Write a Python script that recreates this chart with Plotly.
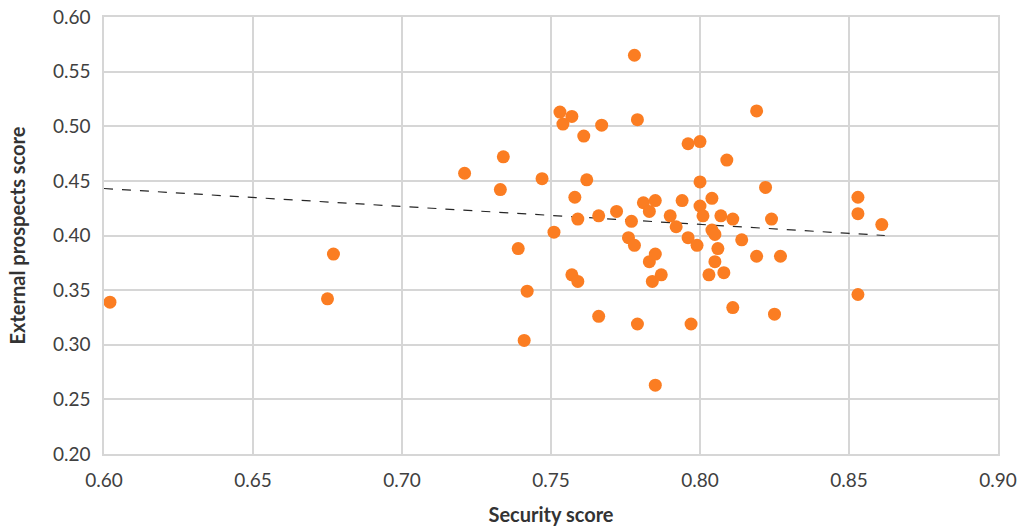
import plotly.graph_objects as go

security = [0.602, 0.675, 0.677, 0.721, 0.734, 0.733, 0.739, 0.742, 0.741, 0.747,
            0.751, 0.753, 0.754, 0.757, 0.758, 0.759, 0.757, 0.759, 0.761, 0.762,
            0.767, 0.766, 0.766, 0.778, 0.779, 0.772, 0.777, 0.776, 0.778, 0.781,
            0.783, 0.785, 0.783, 0.785, 0.784, 0.787, 0.779, 0.785, 0.790, 0.792,
            0.794, 0.796, 0.796, 0.799, 0.797, 0.800, 0.800, 0.800, 0.801, 0.804,
            0.804, 0.805, 0.805, 0.803, 0.806, 0.807, 0.809, 0.808, 0.811, 0.811,
            0.814, 0.819, 0.819, 0.822, 0.824, 0.825, 0.827, 0.853, 0.853, 0.853,
            0.861]
external = [0.339, 0.342, 0.383, 0.457, 0.472, 0.442, 0.388, 0.349, 0.304, 0.452,
            0.403, 0.513, 0.502, 0.509, 0.435, 0.415, 0.364, 0.358, 0.491, 0.451,
            0.501, 0.418, 0.326, 0.565, 0.506, 0.422, 0.413, 0.398, 0.391, 0.430,
            0.422, 0.432, 0.376, 0.383, 0.358, 0.364, 0.319, 0.263, 0.418, 0.408,
            0.432, 0.484, 0.398, 0.391, 0.319, 0.486, 0.449, 0.427, 0.418, 0.434,
            0.405, 0.401, 0.376, 0.364, 0.388, 0.418, 0.469, 0.366, 0.334, 0.415,
            0.396, 0.514, 0.381, 0.444, 0.415, 0.328, 0.381, 0.435, 0.420, 0.346,
            0.410]

# linear trend line as drawn in the source (start / end)
trend_x = [0.600, 0.862]
trend_y = [0.443, 0.400]

x_ticks = [0.60, 0.65, 0.70, 0.75, 0.80, 0.85, 0.90]
y_ticks = [0.20, 0.25, 0.30, 0.35, 0.40, 0.45, 0.50, 0.55, 0.60]

fig = go.Figure()
fig.add_trace(go.Scatter(
    x=trend_x, y=trend_y, mode="lines",
    line=dict(color="#262626", width=1.2, dash="dash"),
    hoverinfo="skip", showlegend=False))
fig.add_trace(go.Scatter(
    x=security, y=external, mode="markers", cliponaxis=False,
    marker=dict(color="#FB7D22", size=13, line=dict(width=0)),
    showlegend=False))

font_family = "Lato, 'Open Sans', sans-serif"
grid = "#D6D6D6"
fig.update_layout(
    width=1018, height=527,
    margin=dict(l=104, r=20, t=17, b=73),
    paper_bgcolor="white", plot_bgcolor="white",
    font=dict(family=font_family, color="#404040"),
    xaxis=dict(
        range=[0.60, 0.90], tickvals=x_ticks,
        ticktext=[f"{v:.2f}" for v in x_ticks],
        showgrid=True, gridcolor=grid, gridwidth=1.5,
        showline=True, linecolor=grid, linewidth=1.5, mirror=True,
        zeroline=False, ticks="", ticklabelstandoff=8, automargin=False,
        tickfont=dict(size=19, color="#404040"),
        title=dict(text="<b>Security score</b>", font=dict(size=20, color="#333333"),
                   standoff=18),
    ),
    yaxis=dict(
        range=[0.20, 0.60], tickvals=y_ticks,
        ticktext=[f"{v:.2f}" for v in y_ticks],
        showgrid=True, gridcolor=grid, gridwidth=1.5,
        showline=True, linecolor=grid, linewidth=1.5, mirror=True,
        zeroline=False, ticks="", ticklabelstandoff=8, automargin=False,
        tickfont=dict(size=19, color="#404040"),
        title=dict(text="<b>External prospects score</b>", font=dict(size=20, color="#333333"),
                   standoff=22),
    ),
)

fig.write_html("out.html", config={"displayModeBar": False},
               post_script="document.body.style.margin='0';")
